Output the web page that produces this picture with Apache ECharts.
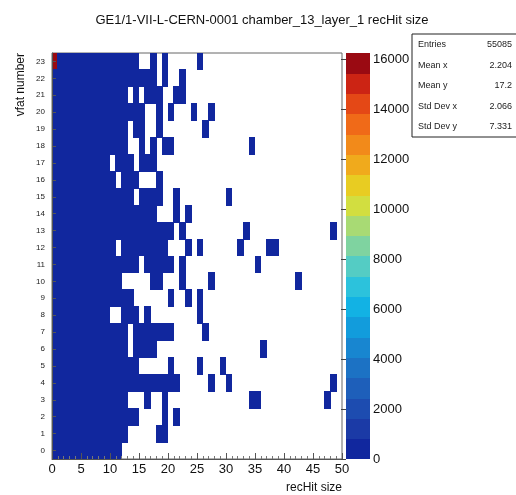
<!DOCTYPE html>
<html><head><meta charset="utf-8">
<script src="https://cdn.jsdelivr.net/npm/echarts@6/dist/echarts.min.js"></script>
<style>html,body{margin:0;padding:0;background:#fff}#c{width:516px;height:495px}</style>
</head><body><div id="c"></div>
<script>
const titleText = 'GE1/1-VII-L-CERN-0001 chamber_13_layer_1 recHit size';
const xTitle = 'recHit size';
const yTitle = 'vfat number';
const vfatLabels = ['0','1','2','3','4','5','6','7','8','9','10','11','12','13','14','15','16','17','18','19','20','21','22','23'];
const xTicks = [0,5,10,15,20,25,30,35,40,45,50];
const zTicks = [0,2000,4000,6000,8000,10000,12000,14000,16000];
const zMax = 16240;
const nBins = 50;
const nLevels = 20;
const palette = ['#11279e','#1b3aa6','#1d4cb0','#1e5fba','#1c72c4','#1886d0','#129cdc','#12b2e4','#2cc2dc','#54ccc4',
                 '#7fd3a0','#a8da74','#d2de40','#e8cc22','#f0aa1c','#f28a1a','#f06a18','#e44816','#cc2414','#9a0a12'];
// estimated counts per cell code ('.' = empty bin)
const countCode = {'.':0, a:2, b:10, c:40, d:120, e:250, R:16100};
// one string per vfat, from vfat 23 (top) down to vfat 0; char i = recHit-size bin i
const rowsTopDown = [
 'Reeeeddddccccbb..a.a.....a',                         // 23
 'deeeeddddccccbbbbb.a..a',                            // 22
 'deeeeddddcccc.b.bbb..aa',                            // 21
 'deeeeddddccccbbb..a.a...a..a',                       // 20
 'deeeeddddcccc.bb..a.......a',                        // 19
 'deeeeddddcccc..b.b.bb.............a',                // 18
 'deeeeddddc.ccb.bbb',                                 // 17
 'deeeeddddcc.cbb...a',                                // 16
 'deeeeddddccccb.bbbb..a........a',                    // 15
 'deeeeddddccccbbbbb...a.a',                           // 14
 'deeeeddddccccbbbbbbbb.a..........a..............a',  // 13
 'deeeeddddcc.cbbbbbbb...a.a......a....aa',            // 12
 'deeeeddddccccbb.bbbbb.a............a',               // 11
 'deeeeddddccc.....bb...a....a..............a',        // 10
 'deeeeddddccccb......a..a.a',                         // 9
 'deeeeddddc..cbb.a........a',                         // 8
 'deeeeddddcccc.bbbbbbb.....a',                        // 7
 'deeeeddddcccc.bbbb..................a',              // 6
 'deeeeddddccccbb.....a....a...a',                     // 5
 'deeeeddddccccbbbbbbbbb.....a..a.................a',  // 4
 'deeeeddddcccc...a..a..............aa...........a',   // 3
 'deeeeddddccccbb....a.a',                             // 2
 'deeeeddddcccc.....aa',                               // 1
 'deeeeddddccc'                                        // 0
];
const statNames = ['Entries','Mean x','Mean y','Std Dev x','Std Dev y'];
const statValues = ['55085','2.204','17.2','2.066','7.331'];

const cells = [];
rowsTopDown.forEach((s, i) => {
  const y = rowsTopDown.length - 1 - i;
  for (let x = 0; x < nBins; x++) {
    const v = countCode[s[x] || '.'];
    if (v > 0) cells.push([x, y, v]);
  }
});
const step = zMax / nLevels;
const bands = palette.map((c, i) => [i * step, (i + 1) * step, i]);

const FONT = 'Liberation Sans, Arial, sans-serif';
const chart = echarts.init(document.getElementById('c'), null, {renderer: 'canvas'});

const statGraphics = [{
  type: 'rect', shape: {x: 412, y: 34, width: 120, height: 103},
  style: {fill: '#fff', stroke: '#222', lineWidth: 1}, z: 20
}];
statNames.forEach((n, i) => {
  const yy = 45 + i * 20.5;
  statGraphics.push({type: 'text', x: 418, y: yy, z: 21,
    style: {text: n, fill: '#222', font: '9px ' + FONT, textAlign: 'left', textVerticalAlign: 'middle'}});
  statGraphics.push({type: 'text', x: 512, y: yy, z: 21,
    style: {text: statValues[i], fill: '#222', font: '9px ' + FONT, textAlign: 'right', textVerticalAlign: 'middle'}});
});

chart.setOption({
  animation: false,
  backgroundColor: '#fff',
  textStyle: {fontFamily: FONT},
  grid: [
    {left: 52, top: 53, width: 290, height: 406, show: true, borderColor: '#666', borderWidth: 1, backgroundColor: 'transparent'},
    {left: 346, top: 53, width: 24, height: 406, show: false}
  ],
  xAxis: [
    {gridIndex: 0, type: 'value', min: 0, max: 50, interval: 5, z: 10,
     axisLine: {show: true, onZero: false, lineStyle: {color: '#555'}},
     axisTick: {show: true, inside: true, length: 6, lineStyle: {color: '#555'}},
     minorTick: {show: true, splitNumber: 5, length: 3, lineStyle: {color: '#777'}},
     splitLine: {show: false},
     axisLabel: {fontSize: 13, color: '#111', margin: 4, fontFamily: FONT,
       formatter: v => xTicks.indexOf(v) >= 0 ? String(v) : ''}},
    {gridIndex: 1, type: 'value', min: 0, max: 1, show: false}
  ],
  yAxis: [
    {gridIndex: 0, type: 'value', min: 0, max: 24, interval: 1, z: 10,
     axisLine: {show: true, onZero: false, lineStyle: {color: '#555'}},
     axisTick: {show: false}, axisLabel: {show: false}, splitLine: {show: false}},
    {gridIndex: 0, type: 'category', data: vfatLabels, boundaryGap: true, position: 'left', z: 10,
     axisLine: {show: false},
     axisTick: {show: true, inside: true, alignWithLabel: true, length: 4, lineStyle: {color: '#555'}},
     axisLabel: {fontSize: 8, color: '#222', margin: 7, fontFamily: FONT},
     splitLine: {show: false}},
    {gridIndex: 1, type: 'value', min: 0, max: zMax, interval: 2000, position: 'right', z: 10,
     axisLine: {show: false},
     axisTick: {show: true, inside: true, length: 5, lineStyle: {color: '#444'}},
     axisLabel: {fontSize: 13, color: '#111', margin: 3, showMaxLabel: false, fontFamily: FONT,
       formatter: v => zTicks.indexOf(v) >= 0 ? String(v) : ''},
     splitLine: {show: false}}
  ],
  series: [
    {type: 'custom', xAxisIndex: 0, yAxisIndex: 0, data: cells, encode: {x: 0, y: 1}, clip: true,
     renderItem: (params, api) => {
       const x = api.value(0), y = api.value(1), v = api.value(2);
       const p0 = api.coord([x, y + 1]);
       const p1 = api.coord([x + 1, y]);
       const lvl = Math.min(nLevels - 1, Math.floor(v / step));
       const x0 = Math.floor(p0[0]), y0 = Math.floor(p0[1]);
       return {type: 'rect',
         shape: {x: x0, y: y0, width: Math.ceil(p1[0]) - x0, height: Math.ceil(p1[1]) - y0},
         style: {fill: palette[lvl]}};
     }},
    {type: 'custom', xAxisIndex: 1, yAxisIndex: 2, data: bands, encode: {y: [0, 1]},
     renderItem: (params, api) => {
       const lo = api.value(0), hi = api.value(1), idx = api.value(2);
       const p0 = api.coord([0, hi]);
       const p1 = api.coord([1, lo]);
       const y0 = Math.floor(p0[1]);
       return {type: 'rect',
         shape: {x: p0[0], y: y0, width: p1[0] - p0[0], height: Math.ceil(p1[1]) - y0},
         style: {fill: palette[idx]}};
     }}
  ],
  graphic: [
    {type: 'text', x: 262, y: 20, style: {text: titleText, fill: '#111', font: '13px ' + FONT, textAlign: 'center', textVerticalAlign: 'middle'}},
    {type: 'text', x: 342, y: 488, style: {text: xTitle, fill: '#111', font: '12px ' + FONT, textAlign: 'right', textVerticalAlign: 'middle'}},
    {type: 'text', x: 21, y: 53, rotation: Math.PI / 2, style: {text: yTitle, fill: '#111', font: '12px ' + FONT, textAlign: 'right', textVerticalAlign: 'middle'}}
  ].concat(statGraphics)
});
</script>
</body></html>
